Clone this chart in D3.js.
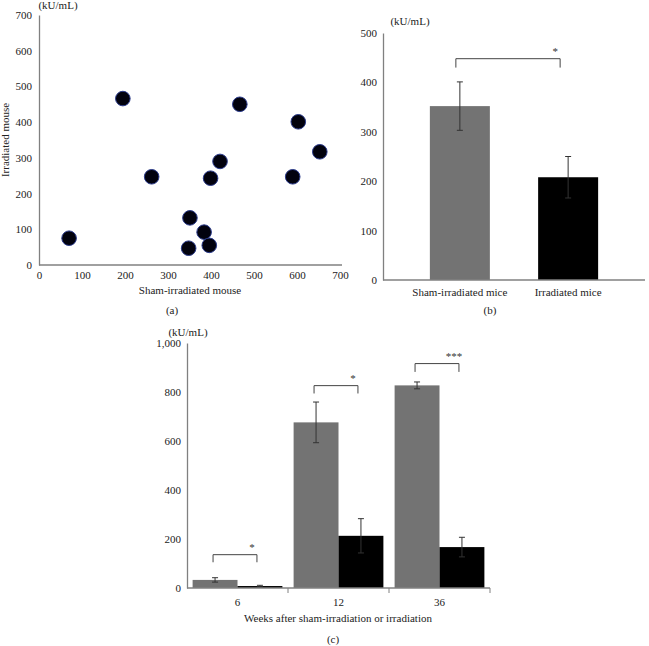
<!DOCTYPE html>
<html>
<head>
<meta charset="utf-8">
<script src="https://cdn.jsdelivr.net/npm/d3@7"></script>
<style>
  body { margin: 0; background: #fff; }
  svg { display: block; font-family: "Liberation Serif", "DejaVu Serif", serif; }
  .tick text { font-family: "Liberation Serif", "DejaVu Serif", serif; font-size: 11px; fill: #222; }
  .lbl { font-size: 11px; fill: #222; }
</style>
</head>
<body>
<svg id="fig" width="649" height="646"></svg>
<script>
// (a) scatter: sham-irradiated vs irradiated, kU/mL
var shamValues = [70, 195, 467, 603, 653, 590, 262, 399, 421, 351, 384, 396, 348];
var irrValues  = [75, 466, 450, 401, 317, 247, 247, 243, 290, 132, 92, 55, 47];
var scatterTicks = [0, 100, 200, 300, 400, 500, 600, 700];

// (b) means
var groupNames = ["Sham-irradiated mice", "Irradiated mice"];
var groupMeans = [352, 208];
var groupErrs  = [49, 42];
var bTicks = [0, 100, 200, 300, 400, 500];

// (c) time course
var weeks = ["6", "12", "36"];
var shamByWeek = [33, 676, 827];
var shamErrByWeek = [9, 83, 14];
var irrByWeek = [8, 213, 167];
var irrErrByWeek = [3, 70, 40];
var cTicks = [0, 200, 400, 600, 800, 1000];
var cBrackets = [{ w: "6", top: 136, leg: 105, label: "*" },
                 { w: "12", top: 826, leg: 794, label: "*" },
                 { w: "36", top: 916, leg: 882, label: "***" }];

var svg = d3.select("#fig");
var axisColor = "#808080";
var grey = "#737373";

function styleAxis(g) {
  g.attr("font-family", null);
  g.selectAll(".domain").attr("stroke", axisColor).attr("stroke-width", 1.3);
  g.selectAll(".tick line").attr("stroke", axisColor);
}

function errBar(g, x, y0, y1) {
  g.append("line").attr("x1", x).attr("x2", x).attr("y1", y0).attr("y2", y1).attr("stroke", "#333");
  [y0, y1].forEach(function(y) {
    g.append("line").attr("x1", x - 3).attr("x2", x + 3).attr("y1", y).attr("y2", y).attr("stroke", "#333");
  });
}

function bracket(g, x0, x1, yTop, yLeg, label) {
  g.append("path")
    .attr("d", "M" + x0 + "," + yLeg + "V" + yTop + "H" + x1 + "V" + yLeg)
    .attr("fill", "none").attr("stroke", "#444").attr("stroke-width", 1);
  g.append("text").attr("x", x1 - 5).attr("y", yTop - 4).attr("text-anchor", "middle")
    .attr("font-size", 11).attr("fill", "#333").text(label);
}

// ---------- (a)
var xa = d3.scaleLinear().domain([0, 700]).range([39, 340]);
var ya = d3.scaleLinear().domain([0, 700]).range([265, 15]);
var ga = svg.append("g");
ga.append("g").attr("transform", "translate(0,265)")
  .call(d3.axisBottom(xa).tickValues(scatterTicks).tickSize(0).tickPadding(6))
  .call(styleAxis)
  .call(function(g) { g.select(".domain").attr("d", "M39,0H342"); });
ga.append("g").attr("transform", "translate(39,0)")
  .call(d3.axisLeft(ya).tickValues(scatterTicks).tickSize(0).tickPadding(7))
  .call(styleAxis);
ga.selectAll("circle.pt").data(shamValues).enter().append("circle")
  .attr("class", "pt")
  .attr("cx", function(d) { return xa(d); })
  .attr("cy", function(d, i) { return ya(irrValues[i]); })
  .attr("r", 7.3)
  .attr("fill", "#02020e").attr("stroke", "#2b3b8c").attr("stroke-width", 1);
ga.append("text").attr("class", "lbl").attr("x", 58).attr("y", 9).attr("text-anchor", "middle").text("(kU/mL)");
ga.append("text").attr("class", "lbl").attr("transform", "translate(9,140) rotate(-90)")
  .attr("text-anchor", "middle").text("Irradiated mouse");
ga.append("text").attr("class", "lbl").attr("x", 190).attr("y", 294).attr("text-anchor", "middle").text("Sham-irradiated mouse");
ga.append("text").attr("class", "lbl").attr("x", 172).attr("y", 314).attr("text-anchor", "middle").text("(a)");

// ---------- (b)
var xb = d3.scaleBand().domain(groupNames).range([383, 645]).paddingInner(0.08).paddingOuter(0.25);
var yb = d3.scaleLinear().domain([0, 500]).range([280, 33]);
var gb = svg.append("g");
var bw = 60;
gb.selectAll("rect").data(groupNames).enter().append("rect")
  .attr("x", function(d) { return xb(d) + xb.bandwidth() / 2 - bw / 2; })
  .attr("width", bw)
  .attr("y", function(d, i) { return yb(groupMeans[i]); })
  .attr("height", function(d, i) { return yb(0) - yb(groupMeans[i]); })
  .attr("fill", function(d, i) { return i === 0 ? grey : "#000"; });
groupNames.forEach(function(d, i) {
  var cx = xb(d) + xb.bandwidth() / 2;
  errBar(gb, cx, yb(groupMeans[i] + groupErrs[i]), yb(groupMeans[i] - groupErrs[i]));
});
gb.append("g").attr("transform", "translate(0,280)")
  .call(d3.axisBottom(xb).tickSize(0).tickPadding(8))
  .call(styleAxis)
  .call(function(g) { g.select(".domain").attr("d", "M383,0H645"); });
gb.append("g").attr("transform", "translate(383,0)")
  .call(d3.axisLeft(yb).tickValues(bTicks).tickSize(0).tickPadding(6))
  .call(styleAxis);
bracket(gb, xb(groupNames[0]) + xb.bandwidth() / 2 - 4, xb(groupNames[1]) + xb.bandwidth() / 2 - 8, yb(448), yb(430), "*");
gb.append("text").attr("class", "lbl").attr("x", 410).attr("y", 25).attr("text-anchor", "middle").text("(kU/mL)");
gb.append("text").attr("class", "lbl").attr("x", 490).attr("y", 314).attr("text-anchor", "middle").text("(b)");

// ---------- (c)
var xc = d3.scaleBand().domain(weeks).range([187, 490]);
var xSub = d3.scaleBand().domain(["sham", "irr"]).range([0, xc.bandwidth()]).paddingOuter(0.125);
var yc = d3.scaleLinear().domain([0, 1000]).range([588, 343]);
var gc = svg.append("g");
var rows = weeks.map(function(w, i) {
  return [{ w: w, k: "sham", v: shamByWeek[i], e: shamErrByWeek[i] },
          { w: w, k: "irr", v: irrByWeek[i], e: irrErrByWeek[i] }];
});
var flat = [].concat.apply([], rows);
gc.selectAll("rect").data(flat).enter().append("rect")
  .attr("x", function(d) { return xc(d.w) + xSub(d.k); })
  .attr("width", xSub.bandwidth())
  .attr("y", function(d) { return yc(d.v); })
  .attr("height", function(d) { return yc(0) - yc(d.v); })
  .attr("fill", function(d) { return d.k === "sham" ? grey : "#000"; });
flat.forEach(function(d) {
  var cx = xc(d.w) + xSub(d.k) + xSub.bandwidth() / 2;
  errBar(gc, cx, yc(d.v + d.e), yc(d.v - d.e));
});
var xAxisC = gc.append("g").attr("transform", "translate(0,588)")
  .call(d3.axisBottom(xc).tickSize(0).tickPadding(10))
  .call(styleAxis);
xAxisC.select(".domain").attr("d", "M187,0H490");
weeks.forEach(function(w) {
  var xr = xc(w) + xc.bandwidth();
  xAxisC.append("line").attr("x1", xr).attr("x2", xr).attr("y1", 0).attr("y2", 5).attr("stroke", axisColor);
});
gc.append("g").attr("transform", "translate(187,0)")
  .call(d3.axisLeft(yc).tickValues(cTicks).tickSize(0).tickPadding(6).tickFormat(d3.format(",")))
  .call(styleAxis);
cBrackets.forEach(function(b) {
  var x0 = xc(b.w) + xSub("sham") + xSub.bandwidth() / 2 - 2;
  var x1 = xc(b.w) + xSub("irr") + xSub.bandwidth() / 2 - 3;
  bracket(gc, x0, x1, yc(b.top), yc(b.leg), b.label);
});
gc.append("text").attr("class", "lbl").attr("x", 188).attr("y", 336).attr("text-anchor", "middle").text("(kU/mL)");
gc.append("text").attr("class", "lbl").attr("x", 338).attr("y", 622).attr("text-anchor", "middle").text("Weeks after sham-irradiation or irradiation");
gc.append("text").attr("class", "lbl").attr("x", 333).attr("y", 643).attr("text-anchor", "middle").text("(c)");
</script>
</body>
</html>
